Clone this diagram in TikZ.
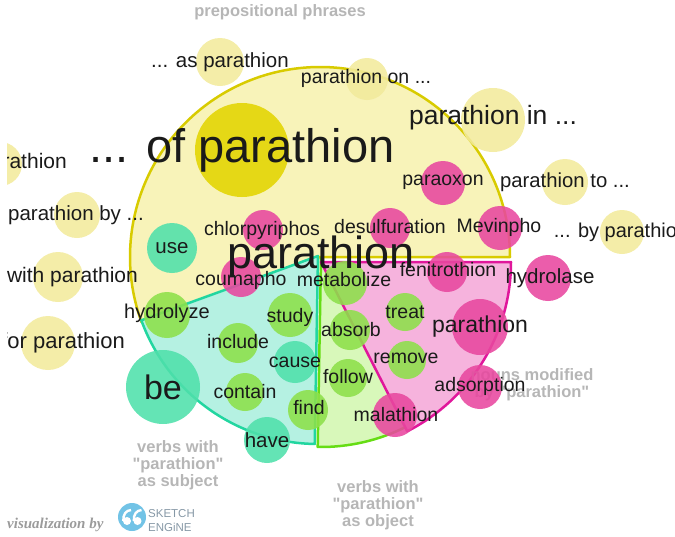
\documentclass[tikz,border=0pt]{standalone}
\usepackage{fontspec}
\setmainfont{Liberation Sans}[Ligatures=TeXOff]
\newfontfamily\serifit{Liberation Serif}
\definecolor{ypale}{HTML}{F8F3B9}
\definecolor{yline}{HTML}{D8CB00}
\definecolor{ycirc}{HTML}{F2EA9C}
\definecolor{ydark}{HTML}{E3D500}
\definecolor{tpale}{HTML}{B5F1E2}
\definecolor{tline}{HTML}{22D6A0}
\definecolor{tcirc}{HTML}{4FE0AB}
\definecolor{gpale}{HTML}{D8F8BA}
\definecolor{gline}{HTML}{66DD14}
\definecolor{gcirc}{HTML}{8DE04A}
\definecolor{ppale}{HTML}{F6B3DD}
\definecolor{pline}{HTML}{E0179B}
\definecolor{pcirc}{HTML}{E8479F}
\definecolor{greytxt}{HTML}{B6B6B6}
\definecolor{txt}{HTML}{1A1A1A}
\definecolor{logoblue}{HTML}{72C3E6}
\definecolor{logotxt}{HTML}{8698A6}
\tikzset{
  sector/.style={line width=2.5pt, line join=round},
  bub/.style={circle, inner sep=0pt, fill opacity=0.88},
  ybub/.style={bub, fill=ycirc},
  pbub/.style={bub, fill=pcirc},
  gbub/.style={bub, fill=gcirc},
  tbub/.style={bub, fill=tcirc},
  lab/.style={font=\fontsize{19.5}{20}\selectfont, text=txt, inner sep=0pt},
  cat/.style={font=\fontsize{16.5}{17}\selectfont\bfseries, text=greytxt, align=center, inner sep=0pt},
}
\begin{document}
\begin{tikzpicture}[x=1pt,y=1pt]
\useasboundingbox (0,0) rectangle (675,-536);
\clip (7,0) rectangle (675,-536);
% sectors
\filldraw[sector, fill=ypale, draw=yline] (320,-257) -- ++(0:190) arc[start angle=0, end angle=200, radius=190] -- cycle;
\filldraw[sector, fill=tpale, draw=tline] (318,-256) -- ++(200:188) arc[start angle=200, end angle=269, radius=188] -- cycle;
\filldraw[sector, fill=gpale, draw=gline] (321,-258) -- ++(269:189) arc[start angle=269, end angle=297, radius=189] -- cycle;
\filldraw[sector, fill=ppale, draw=pline] (321,-262) -- ++(297:190) arc[start angle=297, end angle=360, radius=190] -- cycle;
% category labels
\node[cat] (catpp) at (280,-12) {prepositional phrases};
\node[cat] (catsubj) at (178,-465) {verbs with\\"parathion"\\as subject};
\node[cat] (catobj) at (378,-505) {verbs with\\"parathion"\\as object};
\node[cat] (catnoun) at (532,-385) {nouns modified\\by "parathion"};
% bubbles: yellow
\node[ybub, minimum size=48pt] (b1) at (220,-62) {};
\node[ybub, minimum size=42pt] (b2) at (367,-79) {};
\node[ybub, minimum size=64pt] (b3) at (493,-120) {};
\node[ybub, minimum size=46pt] (b4) at (565,-182) {};
\node[ybub, minimum size=44pt] (b5) at (622,-232) {};
\node[ybub, minimum size=46pt] (b6) at (77,-215) {};
\node[ybub, minimum size=50pt] (b7) at (58,-277) {};
\node[ybub, minimum size=54pt] (b8) at (48,-343) {};
\node[ybub, minimum size=44pt] (b9) at (0,-164) {};
\node[bub, fill=ydark, minimum size=94pt] (b10) at (242,-150) {};
% pink
\node[pbub, minimum size=40pt] (p1) at (263,-230) {};
\node[pbub, minimum size=40pt] (p2) at (390,-228) {};
\node[pbub, minimum size=44pt] (p3) at (443,-183) {};
\node[pbub, minimum size=44pt] (p4) at (500,-228) {};
\node[pbub, minimum size=40pt] (p5) at (241,-277) {};
\node[pbub, minimum size=40pt] (p6) at (447,-272) {};
\node[pbub, minimum size=46pt] (p7) at (548,-278) {};
\node[pbub, minimum size=56pt] (p8) at (480,-327) {};
\node[pbub, minimum size=44pt] (p9) at (480,-387) {};
\node[pbub, minimum size=44pt] (p10) at (395,-415) {};
% green
\node[gbub, minimum size=46pt] (g1) at (167,-315) {};
\node[gbub, minimum size=44pt] (g2) at (345,-283) {};
\node[gbub, minimum size=44pt] (g3) at (290,-315) {};
\node[gbub, minimum size=40pt] (g4) at (238,-343) {};
\node[gbub, minimum size=38pt] (g5) at (245,-392) {};
\node[gbub, minimum size=40pt] (g6) at (308,-410) {};
\node[gbub, minimum size=40pt] (g7) at (350,-330) {};
\node[gbub, minimum size=38pt] (g8) at (405,-312) {};
\node[gbub, minimum size=38pt] (g9) at (407,-360) {};
\node[gbub, minimum size=38pt] (g10) at (348,-378) {};
% teal
\node[tbub, minimum size=50pt] (t1) at (172,-248) {};
\node[tbub, minimum size=74pt] (t2) at (163,-387) {};
\node[tbub, minimum size=42pt] (t3) at (295,-362) {};
\node[tbub, minimum size=46pt] (t4) at (267,-440) {};
% labels
\node[lab, font=\fontsize{20.5}{21}\selectfont] (l1) at (220,-62) {... as parathion};
\node[lab] (l2) at (366,-78) {parathion on ...};
\node[lab, font=\fontsize{47}{48}\selectfont] (l3) at (242,-150) {... of parathion};
\node[lab, font=\fontsize{26.5}{27}\selectfont] (l4) at (493,-118) {parathion in ...};
\node[lab] (l5) at (443,-182) {paraoxon};
\node[lab, font=\fontsize{20.3}{21}\selectfont] (l6) at (565,-182) {parathion to ...};
\node[lab] (l7) at (390,-227) {desulfuration};
\node[lab] (l8) at (499,-227) {Mevinpho};
\node[lab, font=\fontsize{20}{21}\selectfont] (l9) at (621,-232) {... by parathion};
\node[lab] (l10) at (262,-230) {chlorpyriphos};
\node[lab, font=\fontsize{20.5}{21}\selectfont] (l11) at (172,-248) {use};
\node[lab, font=\fontsize{20.5}{21}\selectfont] (l12) at (76,-215) {parathion by ...};
\node[lab, font=\fontsize{21}{22}\selectfont, anchor=east] (l13) at (67,-163) {... in parathion};
\node[lab, font=\fontsize{21}{22}\selectfont, anchor=east] (l14) at (138,-277) {... with parathion};
\node[lab, font=\fontsize{22}{23}\selectfont, anchor=east] (l15) at (125,-343) {... for parathion};
\node[lab, font=\fontsize{45}{46}\selectfont] (l16) at (321,-257) {parathion};
\node[lab] (l17) at (241,-280) {coumapho};
\node[lab] (l18) at (344,-280) {metabolize};
\node[lab] (l19) at (448,-270) {fenitrothion};
\node[lab, font=\fontsize{20.5}{21}\selectfont] (l20) at (550,-278) {hydrolase};
\node[lab, font=\fontsize{20}{21}\selectfont] (l21) at (167,-313) {hydrolyze};
\node[lab] (l22) at (290,-317) {study};
\node[lab] (l23) at (351,-330) {absorb};
\node[lab] (l24) at (405,-312) {treat};
\node[lab, font=\fontsize{23}{24}\selectfont] (l25) at (480,-327) {parathion};
\node[lab] (l26) at (238,-342) {include};
\node[lab] (l27) at (406,-358) {remove};
\node[lab] (l28) at (295,-362) {cause};
\node[lab] (l29) at (348,-377) {follow};
\node[lab] (l30) at (245,-392) {contain};
\node[lab, font=\fontsize{34}{35}\selectfont] (l31) at (163,-387) {be};
\node[lab] (l32) at (480,-386) {adsorption};
\node[lab] (l33) at (309,-408) {find};
\node[lab] (l34) at (396,-415) {malathion};
\node[lab, font=\fontsize{20.5}{21}\selectfont] (l35) at (267,-440) {have};
% footer
\node[font=\fontsize{15}{16}\selectfont\serifit\bfseries\itshape, text=greytxt!85!black, anchor=west, inner sep=0pt] (vis) at (7,-525) {visualization by};
\node[circle, fill=logoblue, minimum size=28pt, inner sep=0pt] (logo) at (132,-517) {};
\fill[white] (127,-521) circle (4);
\fill[white] (137.5,-521) circle (4);
\draw[white, line width=2.4pt] (123.3,-521) .. controls (123,-514) and (126,-510.5) .. (131,-510);
\draw[white, line width=2.4pt] (133.8,-521) .. controls (133.5,-514) and (136.5,-510.5) .. (141.5,-510);
\node[font=\fontsize{11.5}{12}\selectfont, text=logotxt, anchor=west, inner sep=0pt] (sk) at (148,-514) {SKETCH};
\node[font=\fontsize{11.5}{12}\selectfont, text=logotxt, anchor=west, inner sep=0pt] (en) at (148,-527) {ENGiNE};
\end{tikzpicture}
\end{document}
